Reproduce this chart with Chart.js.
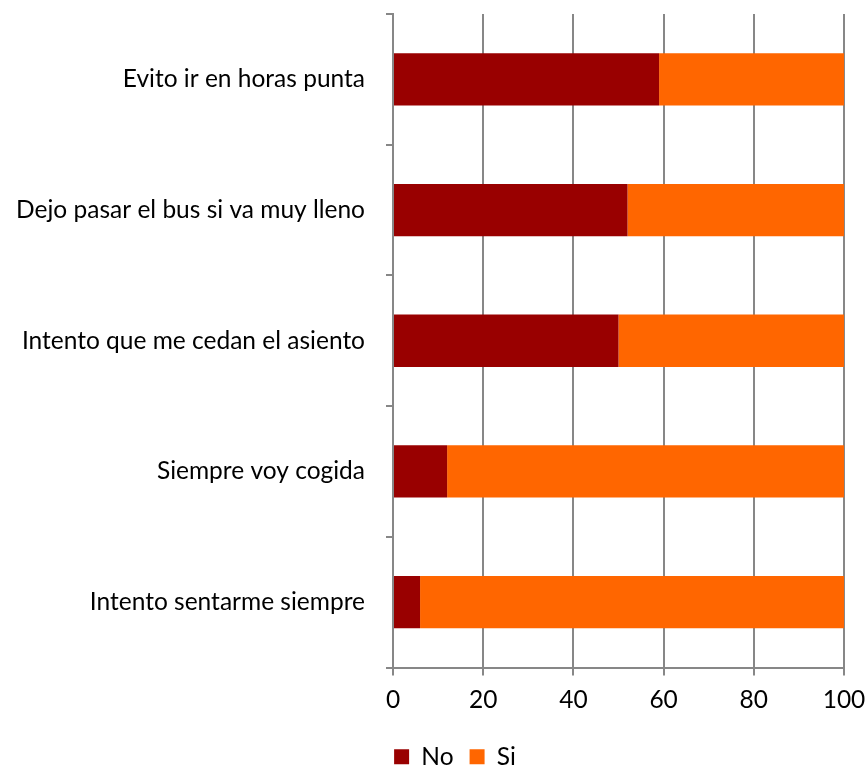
<!DOCTYPE html>
<html>
<head>
<meta charset="utf-8">
<script src="https://cdn.jsdelivr.net/npm/chart.js@4/dist/chart.umd.min.js"></script>
<style>
  html, body { margin: 0; padding: 0; background: #fff; }
  #wrap { width: 866px; height: 768px; }
</style>
</head>
<body>
<div id="wrap"><canvas id="chart" width="866" height="768"></canvas></div>
<script>
// categories, top to bottom
const categories = [
    "Evito ir en horas punta",
    "Dejo pasar el bus si va muy lleno",
    "Intento que me cedan el asiento",
    "Siempre voy cogida",
    "Intento sentarme siempre"
];
const noValues = [59, 52, 50, 12, 6];
const siValues = [41, 48, 50, 88, 94];
const xTicks = [0, 20, 40, 60, 80, 100];

const axisGray = "#878787";
const font = { family: "Lato, 'Open Sans', sans-serif", size: 24.5 };

// nudge the legend a bit right, like in the original
const legendShift = {
    id: "legendShift",
    afterLayout(chart) {
        chart.legend.left += 33;
        chart.legend.right += 33;
    }
};

new Chart(document.getElementById("chart"), {
    type: "bar",
    data: {
        labels: categories,
        datasets: [
            { label: "No", data: noValues, backgroundColor: "#990000", borderWidth: 0 },
            { label: "Si", data: siValues, backgroundColor: "#FF6600", borderWidth: 0 }
        ]
    },
    plugins: [legendShift],
    options: {
        indexAxis: "y",
        responsive: false,
        animation: false,
        layout: { padding: { top: 14, right: 22, left: 0, bottom: -11 } },
        scales: {
            x: {
                stacked: true,
                min: 0,
                max: 100,
                afterBuildTicks: scale => { scale.ticks = xTicks.map(v => ({ value: v })); },
                afterFit: scale => {
                    scale.height = 61;
                    scale.paddingLeft = 0;
                    scale.paddingRight = 0;
                },
                grid: { color: axisGray, lineWidth: 2, tickLength: 8, drawTicks: true },
                border: { color: axisGray, width: 2 },
                ticks: { color: "#000", font: font, padding: 10, maxRotation: 0 }
            },
            y: {
                stacked: true,
                afterFit: scale => {
                    scale.width = 393;
                    scale.paddingTop = 0;
                    scale.paddingBottom = 0;
                },
                grid: { drawOnChartArea: false, offset: true, color: axisGray, lineWidth: 2, tickLength: 7 },
                border: { color: axisGray, width: 2 },
                ticks: { color: "#000", font: font, padding: 21 }
            }
        },
        datasets: { bar: { categoryPercentage: 1, barPercentage: 0.4 } },
        plugins: {
            legend: {
                position: "bottom",
                labels: { color: "#000", font: font, boxWidth: 15, boxHeight: 15, padding: 16 }
            },
            tooltip: { enabled: false }
        }
    }
});
</script>
</body>
</html>
